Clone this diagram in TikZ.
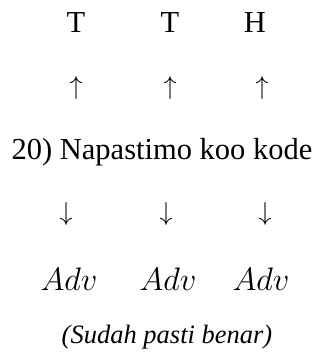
\RequirePackage{fix-cm}
\documentclass[tikz,border=0pt]{standalone}
\usepackage{fontspec}
\setmainfont{Liberation Serif}
\begin{document}
\begin{tikzpicture}[x=1pt,y=-1pt,
  lbl/.style={anchor=base,inner sep=0pt,font=\fontsize{30.5}{34}\selectfont},
  arr/.style={anchor=base,inner sep=0pt,font=\fontsize{26}{30}\selectfont},
  adv/.style={anchor=base,inner sep=0pt,font=\fontsize{32.5}{36}\selectfont},
  note/.style={anchor=base,inner sep=0pt,font=\fontsize{26.5}{30}\selectfont\itshape}]
\useasboundingbox (0,0) rectangle (322,358);
% top row of labels
\node[lbl] (t1) at (76,33) {T};
\node[lbl] (t2) at (170,33) {T};
\node[lbl] (h)  at (255,33) {H};
% upward arrows
\node[arr] (u1) at (76,95) {$\uparrow$};
\node[arr] (u2) at (170,95) {$\uparrow$};
\node[arr] (u3) at (262,95) {$\uparrow$};
% the sentence
\node[lbl] (s) at (162,159) {20) Napastimo koo kode};
% downward arrows
\node[arr] (d1) at (66,220) {$\downarrow$};
\node[arr] (d2) at (166,220) {$\downarrow$};
\node[arr] (d3) at (265,220) {$\downarrow$};
% bottom row of labels
\node[adv] (a1) at (69,290) {$Adv$};
\node[adv] (a2) at (168,290) {$Adv$};
\node[adv] (a3) at (261,290) {$Adv$};
% remark
\node[note] (r) at (167,343) {(Sudah pasti benar)};
\end{tikzpicture}
\end{document}
